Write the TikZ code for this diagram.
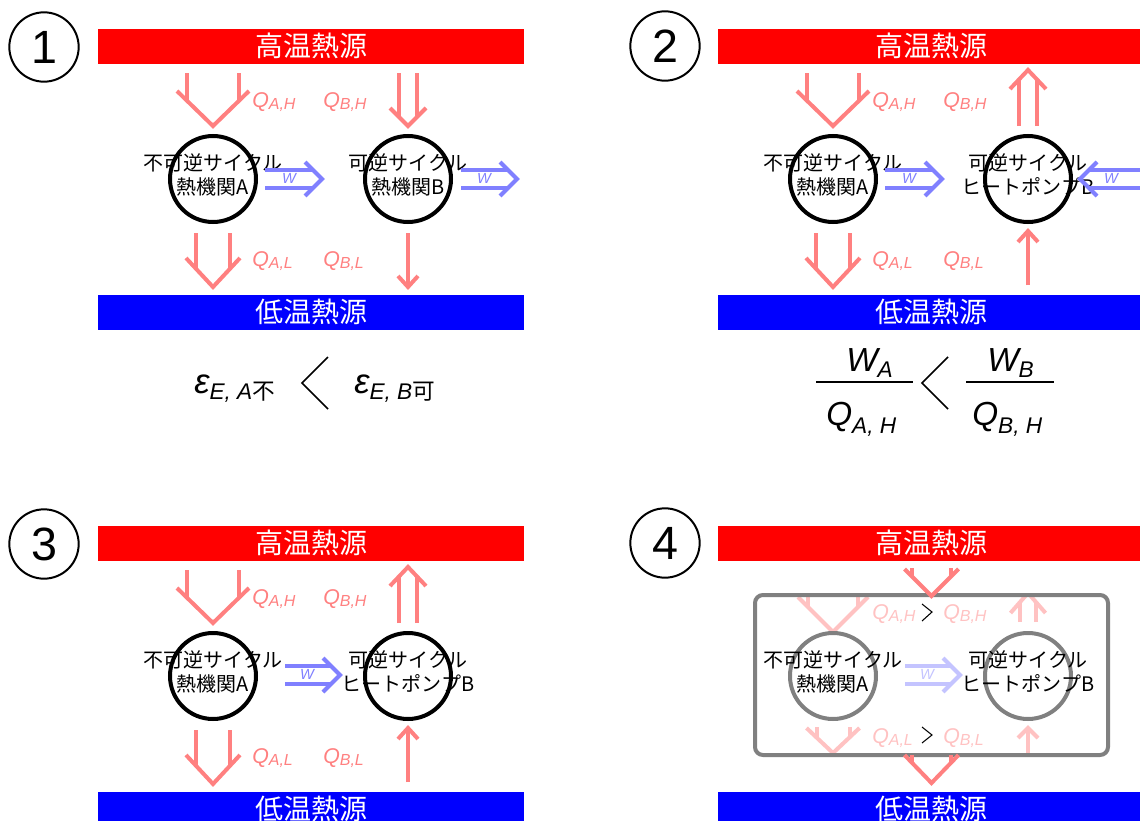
\documentclass[tikz,border=0pt]{standalone}
\usepackage{fontspec}
\setmainfont{Liberation Sans}
\newfontfamily\jp{Noto Sans CJK JP}
\usetikzlibrary{calc}
\definecolor{hotred}{RGB}{255,0,0}
\definecolor{coldblue}{RGB}{0,0,255}
\definecolor{qred}{RGB}{255,128,128}
\definecolor{qfade}{RGB}{255,194,194}
\definecolor{wblue}{RGB}{128,128,255}
\definecolor{wfade}{RGB}{196,196,255}
\definecolor{boxgray}{RGB}{128,128,128}
% vertical double arrow: style, from, tip, half gap, head half width, head length (negative = upward)
\newcommand\ArrV[6]{%
  \draw[#1] ($(#2)+(-#4,0)$) -- ($(#3)+(-#4,{-(#6)*(#4)/(#5)})$);
  \draw[#1] ($(#2)+(#4,0)$) -- ($(#3)+(#4,{-(#6)*(#4)/(#5)})$);
  \draw[#1] ($(#3)+(-#5,{-(#6)})$) -- (#3) -- ($(#3)+(#5,{-(#6)})$);
}
% horizontal double arrow: style, from, tip, half gap, head half width, head length (negative = leftward)
\newcommand\ArrH[6]{%
  \draw[#1] ($(#2)+(0,-#4)$) -- ($(#3)+({-(#6)*(#4)/(#5)},-#4)$);
  \draw[#1] ($(#2)+(0,#4)$) -- ($(#3)+({-(#6)*(#4)/(#5)},#4)$);
  \draw[#1] ($(#3)+({-(#6)},-#5)$) -- (#3) -- ($(#3)+({-(#6)},#5)$);
}
\newcommand\Qsub[1]{{\itshape Q\raisebox{-2.2pt}{\fontsize{12pt}{12pt}\selectfont #1}}}
\tikzset{
  hotbar/.style={fill=hotred, minimum width=319.5pt, minimum height=26.25pt, inner sep=0pt,
    text=white, font=\jp\fontsize{21pt}{21pt}\selectfont},
  coldbar/.style={hotbar, fill=coldblue},
  engine/.style={circle, draw=black, line width=3pt, minimum size=64.5pt, inner sep=0pt},
  fadeengine/.style={engine, draw=boxgray},
  enginetext/.style={align=center, inner sep=0pt, font=\jp\fontsize{15pt}{18pt}\selectfont},
  numcirc/.style={circle, draw=black, line width=1.5pt, minimum size=52pt, inner sep=0pt},
  numtext/.style={inner sep=0pt, font=\fontsize{35pt}{35pt}\selectfont},
  qarrow/.style={draw=qred, line width=3pt, line join=miter},
  farrow/.style={draw=qfade, line width=3pt, line join=miter},
  warrow/.style={draw=wblue, line width=3pt, line join=miter},
  fwarrow/.style={draw=wfade, line width=3pt, line join=miter},
  qlabel/.style={text=qred, anchor=base west, inner sep=0pt, font=\fontsize{16pt}{16pt}\selectfont},
  flabel/.style={qlabel, text=qfade},
  wlabel/.style={text=wblue, inner sep=0pt, font=\itshape\fontsize{11pt}{11pt}\selectfont},
  fwlabel/.style={wlabel, text=wfade},
  chev/.style={draw=black, line width=1.1pt},
  smallchev/.style={draw=black, line width=0.8pt},
  fracline/.style={draw=black, line width=1.1pt},
  eps/.style={anchor=base west, inner sep=0pt, font=\itshape\fontsize{26pt}{26pt}\selectfont},
  frac/.style={anchor=base west, inner sep=0pt, font=\itshape\fontsize{25pt}{25pt}\selectfont},
  netbox/.style={draw=boxgray, line width=3pt, rounded corners=6pt},
}
\begin{document}
\begin{tikzpicture}[x=0.75pt,y=-0.75pt]
\useasboundingbox (0,0) rectangle (1140,821);
\clip (0,0) rectangle (1140,821);
\fill[white] (0,0) rectangle (1140,821);

% ================= Panel 1 =================
\begin{scope}[name prefix=a-]
  \node[numcirc] (num) at (44,47) {};
  \node[numtext] (numt) at (44,47) {1};
  \node[hotbar] (hot) at (311,46) {高温熱源};
  \node[coldbar] (cold) at (311,312) {低温熱源};
  \coordinate (qah0) at (213,73); \coordinate (qah1) at (213,126);
  \ArrV{qarrow}{qah0}{qah1}{26}{36}{35}
  \coordinate (qbh0) at (408,73); \coordinate (qbh1) at (408,126);
  \ArrV{qarrow}{qbh0}{qbh1}{9}{18}{18}
  \coordinate (qal0) at (213,233); \coordinate (qal1) at (213,287);
  \ArrV{qarrow}{qal0}{qal1}{17}{27}{29}
  \coordinate (qbl0) at (408,233); \coordinate (qbl1) at (408,287);
  \ArrV{qarrow}{qbl0}{qbl1}{0}{10}{11}
  \node[engine] (A) at (213,179) {};
  \node[engine] (B) at (408,179) {};
  \node[enginetext] (At) at (213,175) {不可逆サイクル\\熱機関A};
  \node[enginetext] (Bt) at (408,175) {可逆サイクル\\熱機関B};
  \coordinate (wa0) at (265,179); \coordinate (wa1) at (322,179);
  \ArrH{warrow}{wa0}{wa1}{9}{17}{17}
  \coordinate (wb0) at (461,179); \coordinate (wb1) at (517,179);
  \ArrH{warrow}{wb0}{wb1}{9}{17}{17}
  \node[wlabel] (lwa) at (289,178) {W};
  \node[wlabel] (lwb) at (484,178) {W};
  \node[qlabel] (lqah) at (252,107) {\Qsub{A,H}};
  \node[qlabel] (lqbh) at (323,107) {\Qsub{B,H}};
  \node[qlabel] (lqal) at (252,266) {\Qsub{A,L}};
  \node[qlabel] (lqbl) at (323,266) {\Qsub{B,L}};
  \node[eps] (epsA) at (194,393) {ε\raisebox{-5pt}{\fontsize{17pt}{17pt}\selectfont E, A{\upshape\jp 不}}};
  \coordinate (ct) at (328,357); \coordinate (cv) at (302,383); \coordinate (cb) at (328,409);
  \draw[chev] (ct) -- (cv) -- (cb);
  \node[eps] (epsB) at (354,393) {ε\raisebox{-5pt}{\fontsize{17pt}{17pt}\selectfont E, B{\upshape\jp 可}}};
\end{scope}

% ================= Panel 2 =================
\begin{scope}[shift={(620,0)}, name prefix=b-]
  \node[numcirc] (num) at (45,46) {};
  \node[numtext] (numt) at (45,46) {2};
  \node[hotbar] (hot) at (311,46) {高温熱源};
  \node[coldbar] (cold) at (311,312) {低温熱源};
  \coordinate (qah0) at (213,73); \coordinate (qah1) at (213,126);
  \ArrV{qarrow}{qah0}{qah1}{26}{36}{35}
  \coordinate (qbh0) at (408,126); \coordinate (qbh1) at (408,70);
  \ArrV{qarrow}{qbh0}{qbh1}{9}{18}{-19}
  \coordinate (qal0) at (213,233); \coordinate (qal1) at (213,287);
  \ArrV{qarrow}{qal0}{qal1}{17}{27}{29}
  \coordinate (qbl0) at (408,285); \coordinate (qbl1) at (408,231);
  \ArrV{qarrow}{qbl0}{qbl1}{0}{10}{-11}
  \node[engine] (A) at (213,179) {};
  \node[engine] (B) at (408,179) {};
  \node[enginetext] (At) at (213,175) {不可逆サイクル\\熱機関A};
  \node[enginetext] (Bt) at (408,175) {可逆サイクル\\ヒートポンプB};
  \coordinate (wa0) at (265,179); \coordinate (wa1) at (322,179);
  \ArrH{warrow}{wa0}{wa1}{9}{17}{17}
  \coordinate (wb0) at (530,179); \coordinate (wb1) at (460,179);
  \ArrH{warrow}{wb0}{wb1}{9}{17}{-17}
  \node[wlabel] (lwa) at (289,178) {W};
  \node[wlabel] (lwb) at (491,178) {W};
  \node[qlabel] (lqah) at (252,107) {\Qsub{A,H}};
  \node[qlabel] (lqbh) at (323,107) {\Qsub{B,H}};
  \node[qlabel] (lqal) at (252,266) {\Qsub{A,L}};
  \node[qlabel] (lqbl) at (323,266) {\Qsub{B,L}};
  \coordinate (f1a) at (196,382); \coordinate (f1b) at (293,382);
  \draw[fracline] (f1a) -- (f1b);
  \node[frac] (WA) at (226,371) {W\raisebox{-5pt}{\fontsize{17pt}{17pt}\selectfont A}};
  \node[frac] (QAH) at (206,425) {Q\raisebox{-6pt}{\fontsize{17pt}{17pt}\selectfont A, H}};
  \coordinate (ct) at (328,357); \coordinate (cv) at (302,383); \coordinate (cb) at (328,409);
  \draw[chev] (ct) -- (cv) -- (cb);
  \coordinate (f2a) at (346,382); \coordinate (f2b) at (434,382);
  \draw[fracline] (f2a) -- (f2b);
  \node[frac] (WB) at (367,371) {W\raisebox{-5pt}{\fontsize{17pt}{17pt}\selectfont B}};
  \node[frac] (QBH) at (352,425) {Q\raisebox{-6pt}{\fontsize{17pt}{17pt}\selectfont B, H}};
\end{scope}

% ================= Panel 3 =================
\begin{scope}[shift={(0,497)}, name prefix=c-]
  \node[numcirc] (num) at (44,47) {};
  \node[numtext] (numt) at (44,47) {3};
  \node[hotbar] (hot) at (311,46) {高温熱源};
  \node[coldbar] (cold) at (311,312) {低温熱源};
  \coordinate (qah0) at (213,73); \coordinate (qah1) at (213,126);
  \ArrV{qarrow}{qah0}{qah1}{26}{36}{35}
  \coordinate (qbh0) at (408,126); \coordinate (qbh1) at (408,70);
  \ArrV{qarrow}{qbh0}{qbh1}{9}{18}{-19}
  \coordinate (qal0) at (213,233); \coordinate (qal1) at (213,287);
  \ArrV{qarrow}{qal0}{qal1}{17}{27}{29}
  \coordinate (qbl0) at (408,285); \coordinate (qbl1) at (408,231);
  \ArrV{qarrow}{qbl0}{qbl1}{0}{10}{-11}
  \node[engine] (A) at (213,179) {};
  \node[engine] (B) at (408,179) {};
  \node[enginetext] (At) at (213,175) {不可逆サイクル\\熱機関A};
  \node[enginetext] (Bt) at (408,175) {可逆サイクル\\ヒートポンプB};
  \coordinate (w0) at (285,178); \coordinate (w1) at (340,178);
  \ArrH{warrow}{w0}{w1}{9}{17}{17}
  \node[wlabel] (lw) at (307,177) {W};
  \node[qlabel] (lqah) at (252,107) {\Qsub{A,H}};
  \node[qlabel] (lqbh) at (323,107) {\Qsub{B,H}};
  \node[qlabel] (lqal) at (252,266) {\Qsub{A,L}};
  \node[qlabel] (lqbl) at (323,266) {\Qsub{B,L}};
\end{scope}

% ================= Panel 4 =================
\begin{scope}[shift={(620,497)}, name prefix=d-]
  \node[numcirc] (num) at (45,46) {};
  \node[numtext] (numt) at (45,46) {4};
  \node[hotbar] (hot) at (311,46) {高温熱源};
  \node[coldbar] (cold) at (311,312) {低温熱源};
  \begin{scope}
    \clip (137,100) rectangle (486,256);
    \coordinate (qah0) at (213,80); \coordinate (qah1) at (213,135);
    \ArrV{farrow}{qah0}{qah1}{25}{35}{35}
    \coordinate (qbh0) at (408,125); \coordinate (qbh1) at (408,96);
    \ArrV{farrow}{qbh0}{qbh1}{8}{17.5}{-20}
    \coordinate (qal0) at (213,230); \coordinate (qal1) at (213,256);
    \ArrV{farrow}{qal0}{qal1}{16.5}{26.5}{25}
    \coordinate (qbl0) at (408,256); \coordinate (qbl1) at (408,231);
    \ArrV{farrow}{qbl0}{qbl1}{0}{10}{-10}
  \end{scope}
  \node[fadeengine] (A) at (213,179) {};
  \node[fadeengine] (B) at (408,179) {};
  \node[enginetext] (At) at (213,175) {不可逆サイクル\\熱機関A};
  \node[enginetext] (Bt) at (408,175) {可逆サイクル\\ヒートポンプB};
  \coordinate (w0) at (285,178); \coordinate (w1) at (340,178);
  \ArrH{fwarrow}{w0}{w1}{9}{17}{17}
  \node[fwlabel] (lw) at (307,177) {W};
  \node[flabel] (lqah) at (252,122) {\Qsub{A,H}};
  \node[flabel] (lqbh) at (323,122) {\Qsub{B,H}};
  \node[flabel] (lqal) at (252,246) {\Qsub{A,L}};
  \node[flabel] (lqbl) at (323,246) {\Qsub{B,L}};
  \coordinate (gt1) at (302,107); \coordinate (gv1) at (312,115); \coordinate (gb1) at (302,124);
  \draw[smallchev] (gt1) -- (gv1) -- (gb1);
  \coordinate (gt2) at (302,230); \coordinate (gv2) at (312,238); \coordinate (gb2) at (302,246);
  \draw[smallchev] (gt2) -- (gv2) -- (gb2);
  \coordinate (bx0) at (135,98); \coordinate (bx1) at (488,258);
  \draw[netbox] (bx0) rectangle (bx1);
  \coordinate (nt0) at (311.5,71); \coordinate (nt1) at (311.5,99);
  \ArrV{qarrow}{nt0}{nt1}{19.5}{27}{27}
  \coordinate (nb0) at (311.5,258); \coordinate (nb1) at (311.5,286);
  \ArrV{qarrow}{nb0}{nb1}{19.5}{27}{28}
\end{scope}
\end{tikzpicture}
\end{document}
